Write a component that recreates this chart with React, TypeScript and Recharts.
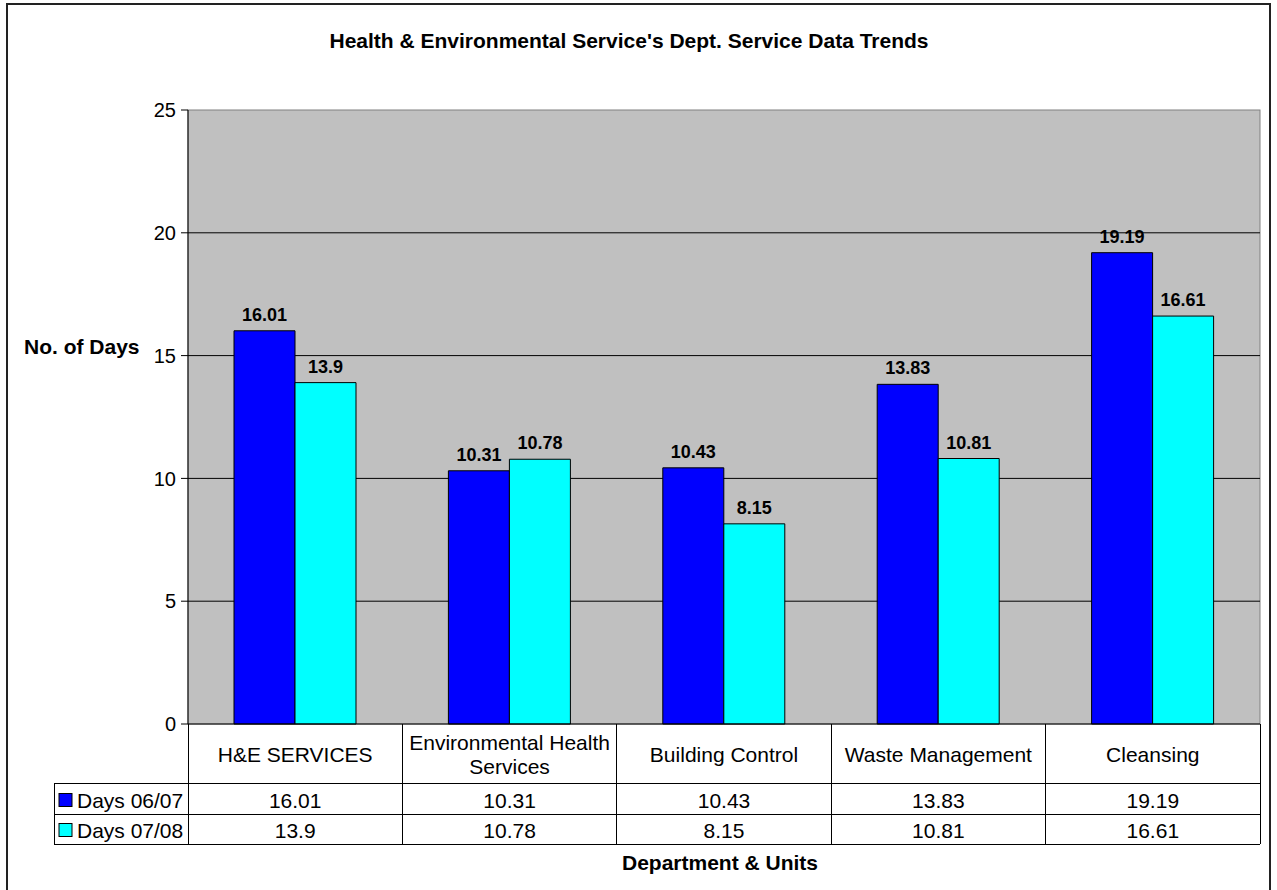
import { BarChart, Bar, XAxis, YAxis, CartesianGrid, LabelList } from 'recharts'

const departments = ['H&E SERVICES', 'Environmental Health Services', 'Building Control', 'Waste Management', 'Cleansing']
const seriesNames = ['Days 06/07', 'Days 07/08']
const days0607 = [16.01, 10.31, 10.43, 13.83, 19.19]
const days0708 = [13.9, 10.78, 8.15, 10.81, 16.61]
const yTicks = [0, 5, 10, 15, 20, 25]
const gridValues = [5, 10, 15, 20]

const seriesColors = ['#0000ff', '#00ffff']
const seriesValues = [days0607, days0708]

const W = 1277
const H = 890
const PLOT_LEFT = 188
const PLOT_RIGHT = 1260
const PLOT_TOP = 110
const PLOT_BOTTOM = 724
const BAND = (PLOT_RIGHT - PLOT_LEFT) / departments.length
const LEGEND_LEFT = 54
const FONT = '"Liberation Sans", Arial, sans-serif'

const chartData = departments.map((name, i) => ({
  name,
  d0607: days0607[i],
  d0708: days0708[i],
}))

// greedy wrap for the table header cells
const wrap = (text: string, max = 20) => {
  const words = text.split(' ')
  const lines: string[] = []
  let cur = ''
  words.forEach((w) => {
    const next = cur ? cur + ' ' + w : w
    if (next.length > max && cur) {
      lines.push(cur)
      cur = w
    } else {
      cur = next
    }
  })
  if (cur) lines.push(cur)
  return lines
}

function TableTick(props: any) {
  const { x, y, payload, index } = props
  const left = x - BAND / 2
  const right = x + BAND / 2
  const r1 = y + 59
  const r2 = r1 + 31
  const r3 = r2 + 30
  const lines = wrap(String(payload.value))
  const headMid = y + 30
  const lh = 24
  const line = { stroke: '#000', strokeWidth: 1, shapeRendering: 'crispEdges' as const }
  return (
    <g fontFamily={FONT} fontSize={21} fill="#000">
      <line x1={left} y1={y} x2={left} y2={r3} {...line} />
      <line x1={right} y1={y} x2={right} y2={r3} {...line} />
      <line x1={left} y1={r1} x2={right} y2={r1} {...line} />
      <line x1={left} y1={r2} x2={right} y2={r2} {...line} />
      <line x1={left} y1={r3} x2={right} y2={r3} {...line} />
      {lines.map((t, i) => (
        <text key={i} x={x} y={headMid + (i - (lines.length - 1) / 2) * lh} textAnchor="middle" dominantBaseline="central">
          {t}
        </text>
      ))}
      {seriesValues.map((vals, s) => (
        <text key={s} x={x} y={s === 0 ? r1 + 17 : r2 + 16} textAnchor="middle" dominantBaseline="central">
          {vals[index]}
        </text>
      ))}
      {index === 0 && (
        <g>
          <line x1={LEGEND_LEFT} y1={r1} x2={left} y2={r1} {...line} />
          <line x1={LEGEND_LEFT} y1={r2} x2={left} y2={r2} {...line} />
          <line x1={LEGEND_LEFT} y1={r3} x2={left} y2={r3} {...line} />
          <line x1={LEGEND_LEFT} y1={r1} x2={LEGEND_LEFT} y2={r3} {...line} />
          {seriesNames.map((n, s) => {
            const cy = s === 0 ? r1 + 17 : r2 + 16
            return (
              <g key={n}>
                <rect x={LEGEND_LEFT + 5} y={cy - 6.5} width={13} height={13} fill={seriesColors[s]} stroke="#000" strokeWidth={1} />
                <text x={LEGEND_LEFT + 23} y={cy} dominantBaseline="central">
                  {n}
                </text>
              </g>
            )
          })}
        </g>
      )}
    </g>
  )
}

export default function App() {
  return (
    <div style={{ position: 'absolute', left: 0, top: 0, width: W, height: H, background: '#fff', fontFamily: FONT, overflow: 'hidden' }}>
      <svg width={W} height={H} style={{ position: 'absolute', left: 0, top: 0 }}>
        <rect x={7} y={4} width={1263} height={920} fill="none" stroke="#222" strokeWidth={2} />
        <rect
          x={PLOT_LEFT}
          y={PLOT_TOP}
          width={PLOT_RIGHT - PLOT_LEFT}
          height={PLOT_BOTTOM - PLOT_TOP}
          fill="#c0c0c0"
          stroke="#808080"
          strokeWidth={1}
        />
        <text x={629} y={48} textAnchor="middle" fontSize={21} fontWeight="bold" fontFamily={FONT}>
          Health &amp; Environmental Service's Dept. Service Data Trends
        </text>
        <text x={24} y={354} fontSize={21} fontWeight="bold" fontFamily={FONT}>
          No. of Days
        </text>
        <text x={720} y={870} textAnchor="middle" fontSize={21} fontWeight="bold" fontFamily={FONT}>
          Department &amp; Units
        </text>
      </svg>
      <div style={{ position: 'absolute', left: 0, top: 0 }}>
        <BarChart
          width={W}
          height={H}
          data={chartData}
          margin={{ top: PLOT_TOP, right: W - PLOT_RIGHT, left: PLOT_LEFT - 60, bottom: H - PLOT_BOTTOM - 120 }}
          barCategoryGap={46}
          barGap={0}
        >
          <CartesianGrid vertical={false} horizontalValues={gridValues} stroke="#000" strokeDasharray="" />
          <XAxis
            dataKey="name"
            height={120}
            interval={0}
            tickLine={false}
            tickSize={0}
            tickMargin={0}
            axisLine={{ stroke: '#000' }}
            tick={(p: any) => <TableTick {...p} />}
          />
          <YAxis
            width={60}
            domain={[0, 25]}
            ticks={yTicks}
            interval={0}
            tickSize={7}
            tickMargin={5}
            axisLine={{ stroke: '#000' }}
            tickLine={{ stroke: '#000' }}
            tick={{ fill: '#000', fontSize: 20, fontFamily: FONT }}
          />
          <Bar dataKey="d0607" name={seriesNames[0]} fill={seriesColors[0]} stroke="#000" strokeWidth={1} isAnimationActive={false}>
            <LabelList dataKey="d0607" position="top" offset={10} fill="#000" fontSize={18} fontWeight="bold" fontFamily={FONT} />
          </Bar>
          <Bar dataKey="d0708" name={seriesNames[1]} fill={seriesColors[1]} stroke="#000" strokeWidth={1} isAnimationActive={false}>
            <LabelList dataKey="d0708" position="top" offset={10} fill="#000" fontSize={18} fontWeight="bold" fontFamily={FONT} />
          </Bar>
        </BarChart>
      </div>
    </div>
  )
}
